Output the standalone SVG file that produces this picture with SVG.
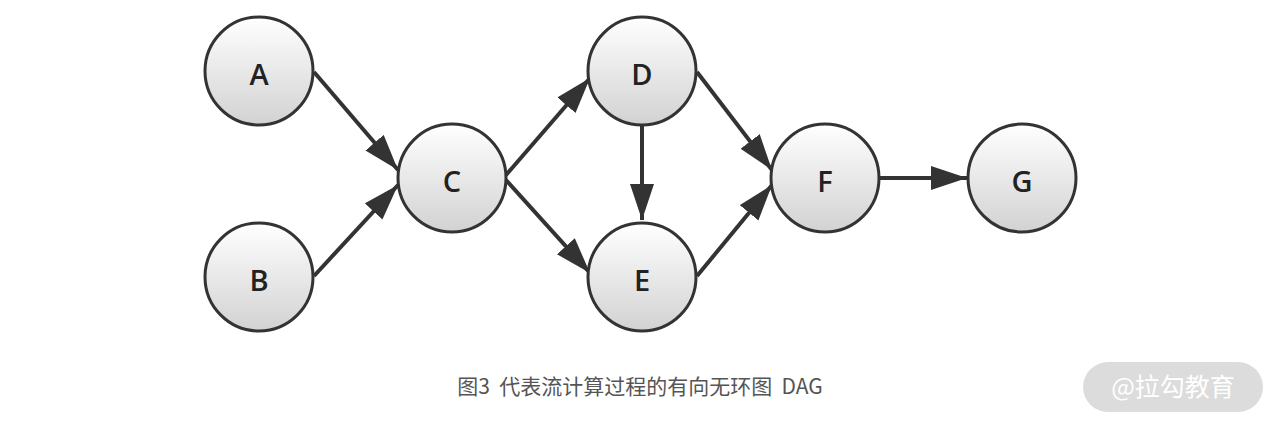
<svg xmlns="http://www.w3.org/2000/svg" width="1280" height="430" viewBox="0 0 1280 430">
<defs>
<linearGradient id="g" x1="0" y1="0" x2="0" y2="1">
<stop offset="0" stop-color="#ffffff"/>
<stop offset="1" stop-color="#d2d2d2"/>
</linearGradient>
<marker id="ah" markerUnits="userSpaceOnUse" markerWidth="38" markerHeight="26" refX="36" refY="12" orient="auto">
<path d="M0,0 L36,12 L0,24 Z" fill="#333"/>
</marker>
<style>
.n circle{fill:url(#g);stroke:#333;stroke-width:3}
.n text{font-family:"Open Sans","DejaVu Sans",sans-serif;font-size:29px;font-weight:600;fill:#222;text-anchor:middle;dominant-baseline:central}
#edges line{stroke:#333;stroke-width:4;marker-end:url(#ah)}
.cap{font-family:"Noto Sans CJK SC","Noto Sans",sans-serif;font-size:21px;fill:#555;text-anchor:middle;white-space:pre}
.wm{font-family:"Noto Sans CJK SC",sans-serif;font-size:25px;fill:#fff;text-anchor:middle}
</style>
</defs>
<rect width="1280" height="430" fill="#fff"/>
<g id="edges">
<line x1="314" y1="72" x2="398" y2="170"/>
<line x1="314" y1="276" x2="398" y2="185"/>
<line x1="506" y1="175" x2="590" y2="78"/>
<line x1="506" y1="180" x2="590" y2="273"/>
<line x1="642" y1="126" x2="642" y2="220"/>
<line x1="697" y1="72" x2="772" y2="170"/>
<line x1="697" y1="276" x2="772" y2="185"/>
<line x1="880" y1="178" x2="967" y2="178"/>
</g>
<g id="A" class="n"><circle cx="259" cy="71" r="54"/><text x="259" y="73">A</text></g>
<g id="B" class="n"><circle cx="259" cy="277" r="54"/><text x="259" y="279">B</text></g>
<g id="C" class="n"><circle cx="452" cy="178" r="54"/><text x="452" y="180">C</text></g>
<g id="D" class="n"><circle cx="642" cy="71" r="54"/><text x="642" y="73">D</text></g>
<g id="E" class="n"><circle cx="642" cy="277" r="54"/><text x="642" y="279">E</text></g>
<g id="F" class="n"><circle cx="825" cy="178" r="54"/><text x="825" y="180">F</text></g>
<g id="G" class="n"><circle cx="1022" cy="178" r="54"/><text x="1022" y="180">G</text></g>
<text class="cap" x="640" y="394" xml:space="preserve">图3  代表流计算过程的有向无环图  DAG</text>
<g id="watermark">
<rect x="1083" y="362" width="180" height="50" rx="25" fill="#dcdcdc"/>
<text class="wm" x="1173" y="396">@拉勾教育</text>
</g>
</svg>
